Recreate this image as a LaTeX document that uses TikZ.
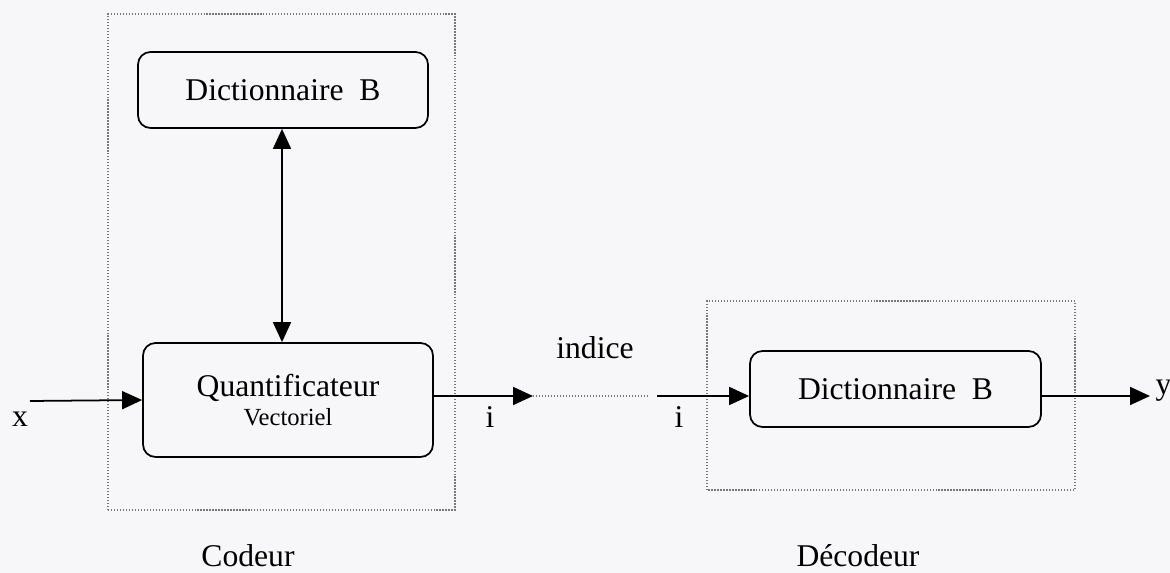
\documentclass[tikz,border=0pt]{standalone}
\usepackage{fontspec}
\setmainfont{Liberation Serif}
\usepackage{tikz}
\usetikzlibrary{arrows.meta, calc}

\definecolor{paper}{RGB}{247,247,249}
\definecolor{dotgray}{RGB}{120,120,125}

\tikzset{
  dictbox/.style={draw, line width=1pt, rounded corners=0.25cm, minimum width=5.8cm,
    minimum height=1.52cm, font=\fontsize{18}{20}\selectfont},
  dotbox/.style={draw=dotgray, line width=0.7pt, densely dotted},
  lbl/.style={font=\fontsize{18}{20}\selectfont, inner sep=0pt}
}

\begin{document}
\begin{tikzpicture}[>={Triangle[length=0.4cm,width=0.36cm]}, line width=1pt]
\fill[paper] (0,0) rectangle (23.4,11.46);
\useasboundingbox (0,0) rectangle (23.4,11.46);
% codeur / decodeur frames
\draw[dotbox] (2.16,1.26) rectangle (9.10,11.18);
\draw[dotbox] (14.14,1.66) rectangle (21.50,5.44);
% blocks
\node[dictbox] (dictA) at (5.66,9.66) {Dictionnaire~~B};
\node[dictbox, minimum height=2.28cm, align=center] (quant) at (5.76,3.46)
  {Quantificateur\\[-3pt]{\fontsize{14}{15}\selectfont Vectoriel}};
\node[dictbox, minimum width=5.82cm] (dictB) at (17.91,3.68) {Dictionnaire~~B};
% free ends
\coordinate (xin) at (0.60,3.44);
\coordinate (tip) at (10.66,3.54);
\coordinate (gapA) at (12.96,3.54);
\coordinate (gapB) at (13.14,3.54);
\coordinate (yout) at (23.00,3.54);
% connectors
\draw[<->] (dictA.south -| 5.64,0) -- (quant.north -| 5.64,0);
\draw[->] (xin) -- (quant.west);
\draw[->] (quant.east |- tip) -- (tip);
\draw[dotbox] (tip) -- (gapA);
\draw[->] (gapB) -- (dictB.west |- tip);
\draw[->] (dictB.east |- tip) -- (yout);
% labels
\node[lbl] (lx) at (0.40,3.08) {x};
\node[lbl] (li) at (9.80,3.12) {i};
\node[lbl] (lj) at (13.58,3.12) {i};
\node[lbl] (lind) at (11.90,4.50) {indice};
\node[lbl] (ly) at (23.27,3.64) {y};
\node[lbl] (lcod) at (4.96,0.34) {Codeur};
\node[lbl] (ldec) at (17.16,0.34) {Décodeur};
\end{tikzpicture}
\end{document}
